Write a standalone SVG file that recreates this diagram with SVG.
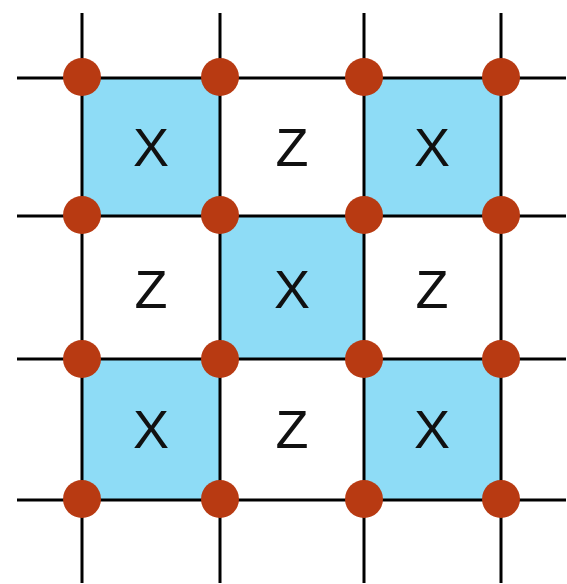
<svg xmlns="http://www.w3.org/2000/svg" width="567" height="584" viewBox="0 0 567 584">
<style>
.cell{fill:#8edcf6;stroke:none}
.ln{stroke:#000;stroke-width:3;fill:none}
.dot{fill:#b83a12}
.lbl{font-family:"Liberation Sans",Arial,sans-serif;font-size:54px;fill:#111;text-anchor:middle}
</style>
<rect width="567" height="584" fill="#fff"/>
<g id="cells">
<g id="x1"><rect class="cell" x="82" y="78" width="138" height="138"/><text class="lbl" x="151" y="166">X</text></g>
<g id="z1"><text class="lbl" x="292" y="166">Z</text></g>
<g id="x2"><rect class="cell" x="364" y="78" width="137" height="138"/><text class="lbl" x="432" y="166">X</text></g>
<g id="z2"><text class="lbl" x="151" y="308">Z</text></g>
<g id="x3"><rect class="cell" x="220" y="216" width="144" height="143"/><text class="lbl" x="292" y="308">X</text></g>
<g id="z3"><text class="lbl" x="432" y="308">Z</text></g>
<g id="x4"><rect class="cell" x="82" y="359" width="138" height="141"/><text class="lbl" x="151" y="448">X</text></g>
<g id="z4"><text class="lbl" x="292" y="448">Z</text></g>
<g id="x5"><rect class="cell" x="364" y="359" width="137" height="141"/><text class="lbl" x="432" y="448">X</text></g>
</g>
<g id="connectors" class="ln">
<line x1="82" y1="13" x2="82" y2="583"/>
<line x1="220" y1="13" x2="220" y2="583"/>
<line x1="364" y1="13" x2="364" y2="583"/>
<line x1="501" y1="13" x2="501" y2="583"/>
<line x1="17" y1="78" x2="566" y2="78"/>
<line x1="17" y1="216" x2="566" y2="216"/>
<line x1="17" y1="359" x2="566" y2="359"/>
<line x1="17" y1="500" x2="566" y2="500"/>
</g>
<g id="vertices" class="dot">
<circle cx="82" cy="77" r="19"/><circle cx="220" cy="77" r="19"/><circle cx="364" cy="77" r="19"/><circle cx="501" cy="77" r="19"/>
<circle cx="82" cy="215" r="19"/><circle cx="220" cy="215" r="19"/><circle cx="364" cy="215" r="19"/><circle cx="501" cy="215" r="19"/>
<circle cx="82" cy="359" r="19"/><circle cx="220" cy="359" r="19"/><circle cx="364" cy="359" r="19"/><circle cx="501" cy="359" r="19"/>
<circle cx="82" cy="499" r="19"/><circle cx="220" cy="499" r="19"/><circle cx="364" cy="499" r="19"/><circle cx="501" cy="499" r="19"/>
</g>
</svg>
